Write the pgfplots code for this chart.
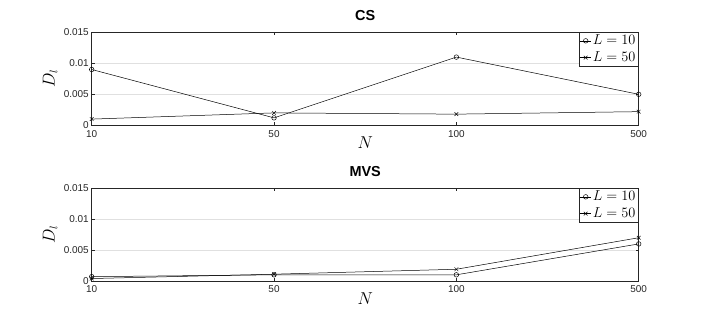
\documentclass[border=0pt]{standalone}
\usepackage{fontspec}
\setmainfont{Liberation Sans}
\usepackage{pgfplots}
\pgfplotsset{compat=1.18}

\definecolor{axgray}{gray}{0.15}
\definecolor{gridgray}{gray}{0.88}

\pgfplotsset{
  mlab/.style={
    scale only axis, width=547bp, height=93bp,
    xmin=0, xmax=3, ymin=0, ymax=0.015,
    scaled y ticks=false,
    xtick={0,1,2,3}, xticklabels={10,50,100,500},
    ytick={0,0.005,0.01,0.015}, yticklabels={0,0.005,0.01,0.015},
    ymajorgrids, grid style={gridgray, line width=0.5pt},
    axis line style={axgray, line width=0.5pt},
    tick style={axgray, line width=0.5pt},
    tick align=inside, major tick length=3bp,
    ticklabel style={font=\fontsize{10}{11}\selectfont, text=axgray},
    xticklabel style={yshift=-1.5bp},
    yticklabel style={xshift=0.5bp},
    xlabel={$N$}, ylabel={$D_l$},
    label style={font=\fontsize{16}{18}\selectfont},
    x label style={at={(axis description cs:0.5,-0.19)}, anchor=center},
    y label style={at={(axis description cs:-0.076,0.5)}, anchor=center},
    title style={font=\bfseries\fontsize{14.5}{16}\selectfont,
      at={(axis description cs:0.5,1.066)}, anchor=base, inner sep=0pt},
    legend style={at={(axis description cs:0.999,0.998)}, anchor=north east,
      draw=axgray, line width=0.4pt, fill=white, inner sep=1bp,
      font=\fontsize{14.5}{16}\selectfont, row sep=2.5bp,
      nodes={inner sep=1.5bp}},
    legend cell align=left,
    legend image code/.code={
      \draw[mark repeat=2, mark phase=2, #1]
        plot coordinates {(0bp,0bp) (5.5bp,0bp) (11bp,0bp)};},
  },
  L10/.style={black, line width=0.5pt, mark=o, mark size=2.3bp},
  L50/.style={black, line width=0.5pt, mark=x, mark size=2.6bp},
}

\begin{document}
\begin{tikzpicture}
\useasboundingbox (0,0) rectangle (706bp,329bp);

% CS
\begin{axis}[mlab, at={(91.7bp,203.7bp)}, anchor=south west, title={CS}]
\addplot[L10] coordinates {(0,0.009) (1,0.0012) (2,0.011) (3,0.005)};
\addlegendentry{$L=10$}
\addplot[L50] coordinates {(0,0.001) (1,0.002) (2,0.0018) (3,0.0022)};
\addlegendentry{$L=50$}
\end{axis}

% MVS
\begin{axis}[mlab, height=92.7bp, at={(91.7bp,48bp)}, anchor=south west, title={MVS}]
\addplot[L10] coordinates {(0,0.0007) (1,0.001) (2,0.001) (3,0.006)};
\addlegendentry{$L=10$}
\addplot[L50] coordinates {(0,0.0004) (1,0.0011) (2,0.0019) (3,0.007)};
\addlegendentry{$L=50$}
\end{axis}
\end{tikzpicture}
\end{document}
